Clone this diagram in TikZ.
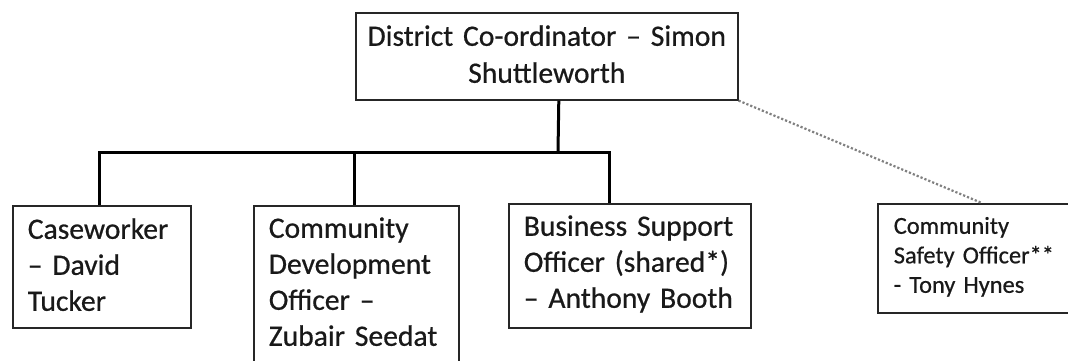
\documentclass[tikz,border=0pt]{standalone}
\usepackage{fontspec}
\setmainfont{Carlito}[FakeBold=0.6]
\usetikzlibrary{positioning}
\def\bigtext{\fontsize{29.6}{36}\selectfont}
\def\toptext{\fontsize{29.6}{37}\selectfont}
\def\smalltext{\fontsize{24.4}{29.5}\selectfont}

\begin{document}
\begin{tikzpicture}[x=1pt,y=-1pt]
	\tikzstyle{post}=[draw=black!85,line width=1.6pt,fill=white,anchor=north west,inner xsep=15pt,inner ysep=0pt,align=left,text=black!90,font=\bigtext]
	\tikzstyle{link}=[line width=3pt,black]
	\tikzstyle{dotlink}=[line width=2.2pt,dotted,black!50]

	\path[use as bounding box,clip] (0,0) rectangle (1068,360);

	% Draw the co-ordinator box
	\node[post,align=center,font=\toptext,inner xsep=9pt,text width=364pt,text height=33pt,text depth=54pt] (coord) at (355,12) {District Co-ordinator – Simon\\Shuttleworth};

	% Draw the team boxes
	\node[post,text width=148pt,text height=33pt,text depth=89pt] (case) at (12,205) {Caseworker\\– David\\Tucker};
	\node[post,text width=175pt,text height=32pt,text depth=140pt] (cdo) at (253,205) {Community\\Development\\Officer –\\Zubair Seedat};
	\node[post,text width=212pt,text height=32pt,text depth=92pt] (bso) at (508,203) {Business Support\\Officer (shared*)\\– Anthony Booth};
	\node[post,font=\smalltext,inner xsep=16pt,text width=168pt,text height=30pt,text depth=79pt] (cso) at (877,203) {Community\\Safety Officer**\\- Tony Hynes};

	% Connect the co-ordinator with the team
	\coordinate (bar) at (558,152);
	\draw[link] ([xshift=12pt]coord.south) -- (bar);
	\draw[link] ([xshift=-2pt]case.north) |- (bar) -| ([xshift=-20pt]bso.north);
	\draw[link] ([xshift=-2pt]cdo.north) -- ([xshift=-2pt]cdo.north |- bar);

	% Dotted link to the safety officer
	\draw[dotlink] (coord.south east) -- ([xshift=4pt]cso.north);
\end{tikzpicture}
\end{document}
